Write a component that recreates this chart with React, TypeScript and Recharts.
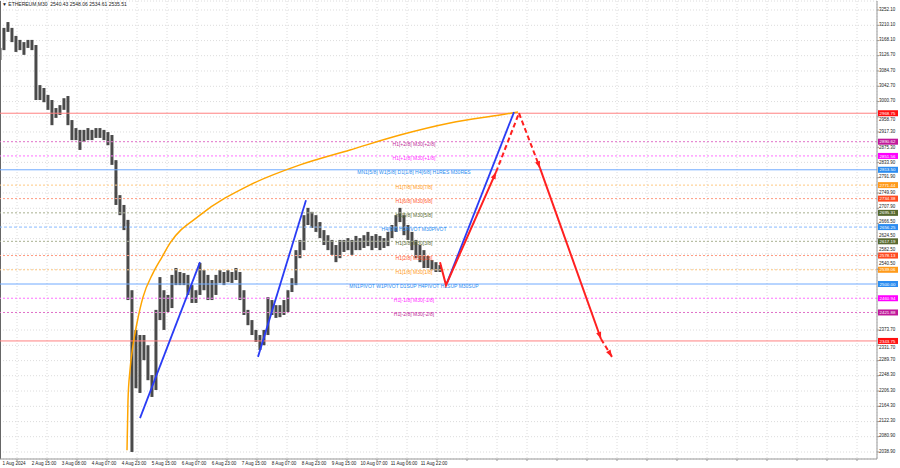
import React from "react";
import {
  ComposedChart,
  Bar,
  Line,
  XAxis,
  YAxis,
  CartesianGrid,
  ReferenceLine,
} from "recharts";

// M30 bars, sampled every 4th bar: index, high, low
const barIndex = [
  0, 4, 8, 12, 16, 20, 24, 28, 32, 36, 40, 44, 48, 52, 56, 60, 64, 68, 72, 76,
  80, 84, 88, 92, 96, 100, 104, 108, 112, 116, 120, 124, 128, 132, 136, 140,
  144, 148, 152, 156, 160, 164, 168, 172, 176, 180, 184, 188, 192, 196, 200,
  204, 208, 212, 216, 220, 224, 228, 232, 236, 240, 244, 248, 252, 256, 260,
  264, 268, 272, 276, 280, 284, 288, 292, 296, 300, 304, 308, 312, 316, 320,
  324, 328, 332, 336, 340, 344, 348, 352, 356, 360, 364, 368, 372, 376, 380,
  384, 388, 392, 396, 400, 404, 408, 412, 416, 420, 424, 428, 432, 436, 440,
];
const highs = [
  3148, 3203, 3219, 3203, 3181, 3170, 3164, 3170, 3170, 3156,
  3046, 3038, 3019, 3005, 2983, 2991, 3010, 3016, 2950, 2928,
  2923, 2923, 2928, 2923, 2928, 2928, 2923, 2917, 2909, 2840,
  2744, 2717, 2676, 2483, 2374, 2360, 2360, 2332, 2250, 2429,
  2519, 2483, 2470, 2525, 2544, 2533, 2530, 2525, 2497, 2483,
  2558, 2538, 2525, 2511, 2525, 2538, 2533, 2538, 2533, 2544,
  2533, 2483, 2429, 2401, 2374, 2360, 2374, 2464, 2456, 2442,
  2442, 2456, 2483, 2516, 2593, 2621, 2689, 2709, 2698, 2689,
  2670, 2648, 2634, 2621, 2607, 2621, 2621, 2626, 2621, 2632,
  2626, 2634, 2643, 2632, 2637, 2632, 2626, 2643, 2662, 2689,
  2709, 2689, 2662, 2643, 2621, 2607, 2593, 2577, 2566, 2560,
  2552,
];
const lows = [
  3115, 3142, 3192, 3164, 3137, 3142, 3129, 3148, 3142, 3005,
  3005, 2999, 2978, 2936, 2956, 2964, 2978, 2936, 2895, 2895,
  2868, 2890, 2895, 2895, 2901, 2901, 2895, 2881, 2827, 2717,
  2689, 2648, 2456, 2039, 2214, 2201, 2291, 2236, 2190, 2209,
  2401, 2374, 2423, 2434, 2497, 2497, 2497, 2470, 2448, 2448,
  2470, 2483, 2456, 2456, 2470, 2503, 2497, 2505, 2503, 2511,
  2456, 2415, 2387, 2360, 2341, 2319, 2332, 2360, 2415, 2407,
  2409, 2415, 2423, 2478, 2497, 2571, 2593, 2662, 2654, 2643,
  2626, 2607, 2593, 2580, 2560, 2571, 2588, 2593, 2580, 2593,
  2593, 2599, 2604, 2593, 2599, 2593, 2599, 2604, 2626, 2643,
  2670, 2634, 2621, 2593, 2571, 2560, 2544, 2544, 2538, 2533,
  2533,
];

// orange arc
const arcBars = [127, 128, 130, 133, 137, 143, 153, 162, 170, 200, 250, 300, 350, 400, 450, 500, 518];
const arcPrices = [2044, 2181, 2264, 2332, 2393, 2464, 2530, 2574, 2612, 2689, 2772, 2827, 2868, 2909, 2942, 2964, 2972];

// blue trend lines [startBar, startPrice, endBar, endPrice]
const blueLines = [
  [140, 2132, 200, 2560],
  [258, 2300, 306, 2730],
  [447, 2503, 514, 2972],
];

// red forecast path
const redBars = [440, 446, 496, 519, 540, 601, 612];
const redPrices = [2560, 2497, 2807, 2969, 2818, 2349, 2300];

// Murrey / pivot levels
const levelPrices = [
  2968.75, 2890.62, 2851.56, 2813.5, 2771.44, 2734.38, 2695.31, 2656.25,
  2617.19, 2578.13, 2539.06, 2500.0, 2460.94, 2421.88, 2343.75,
];
const levelTexts = [
  "",
  "H1[+2/8] M30[+2/8]",
  "H1[+1/8] M30[+1/8]",
  "MN1[5/8] W1[5/8] D1[1/8] H4[6/8] H1RES M30RES",
  "H1[7/8] M30[7/8]",
  "H1[6/8] M30[6/8]",
  "H1[5/8] M30[5/8]",
  "H4[6/8] H1PIVOT M30PIVOT",
  "H1[3/8] M30[3/8]",
  "H1[2/8] M30[2/8]",
  "H1[1/8] M30[1/8]",
  "MN1PIVOT W1PIVOT D1SUP H4PIVOT H1SUP M30SUP",
  "H1[-1/8] M30[-1/8]",
  "H1[-2/8] M30[-2/8]",
  "",
];

const priceTicks = [
  3252.1, 3210.1, 3168.1, 3126.7, 3084.7, 3042.7, 3000.7, 2958.7, 2917.3,
  2875.3, 2833.9, 2791.9, 2749.9, 2707.9, 2666.5, 2624.5, 2582.5, 2540.5,
  2373.7, 2331.7, 2289.7, 2248.3, 2206.3, 2164.3, 2122.3, 2080.9, 2038.9,
];
const timeLabels = [
  "1 Aug 2024", "2 Aug 15:00", "3 Aug 08:00", "4 Aug 07:00", "4 Aug 23:00",
  "5 Aug 15:00", "6 Aug 07:00", "6 Aug 23:00", "7 Aug 15:00", "8 Aug 07:00",
  "8 Aug 23:00", "9 Aug 15:00", "10 Aug 07:00", "11 Aug 06:00", "11 Aug 22:00",
];

const PRICE_DOMAIN: [number, number] = [2019.7, 3276.8];
const BAR_DOMAIN: [number, number] = [0, 877];
const gridBars = Array.from({ length: 29 }, (_, i) => 17 + 30 * i);

const FONT = "'Liberation Sans', Arial, sans-serif";

type LevelStyle = { line: string; tag: string; text: string; dash?: string };
const RED: LevelStyle = { line: "#ff8080", tag: "#ff1010", text: "#ff1010" };
const PURPLE: LevelStyle = { line: "#e070c8", tag: "#c0189a", text: "#c0309a", dash: "2 2" };
const MAGENTA: LevelStyle = { line: "#ff70ff", tag: "#ff00ff", text: "#ff30ff", dash: "2 2" };
const BLUE: LevelStyle = { line: "#70aaff", tag: "#2b8cf0", text: "#2b8cf0" };
const BLUE_D: LevelStyle = { line: "#88bbff", tag: "#2b8cf0", text: "#2b8cf0", dash: "3 2" };
const ORANGE: LevelStyle = { line: "#ffc880", tag: "#ff9a1a", text: "#ff9a1a", dash: "2 2" };
const ORED: LevelStyle = { line: "#ff9a80", tag: "#ff4a20", text: "#ff5a30", dash: "2 2" };
const OLIVE: LevelStyle = { line: "#a8b090", tag: "#586a30", text: "#5a6a30", dash: "2 2" };
const LEVEL_STYLES = [
  RED, PURPLE, MAGENTA, BLUE, ORANGE, ORED, OLIVE, BLUE_D, OLIVE, ORED, ORANGE, BLUE, MAGENTA, PURPLE, RED,
];

const priceData = barIndex.map((x, i) => ({ x, range: [lows[i], highs[i]] }));
const arcData = arcBars.map((x, i) => ({ x, p: arcPrices[i] }));
const blueData = blueLines.map(([x0, p0, x1, p1]) => [
  { x: x0, p: p0 },
  { x: x1, p: p1 },
]);
const redPoints = redBars.map((x, i) => ({ x, p: redPrices[i] }));
const redSegments = [
  { from: 0, to: 2, dashed: false, arrow: true },
  { from: 2, to: 3, dashed: true, arrow: false },
  { from: 3, to: 4, dashed: true, arrow: true },
  { from: 4, to: 5, dashed: false, arrow: true },
  { from: 5, to: 6, dashed: true, arrow: true },
];

const PX_PER_PRICE = 458 / (PRICE_DOMAIN[1] - PRICE_DOMAIN[0]);

function makeArrow(data: { x: number; p: number }[]) {
  return (props: any) => {
    const { cx, cy, index, points } = props;
    const key = `arrow-${index}`;
    if (index !== data.length - 1 || cx == null) return <g key={key} />;
    let dx: number;
    let dy: number;
    if (points && points[index - 1]) {
      dx = cx - points[index - 1].x;
      dy = cy - points[index - 1].y;
    } else {
      dx = data[index].x - data[index - 1].x;
      dy = -(data[index].p - data[index - 1].p) * PX_PER_PRICE;
    }
    const a = Math.atan2(dy, dx);
    const len = 7;
    const half = 2.6;
    const bx = cx - len * Math.cos(a);
    const by = cy - len * Math.sin(a);
    const pts = [
      [cx, cy],
      [bx + half * Math.sin(a), by - half * Math.cos(a)],
      [bx - half * Math.sin(a), by + half * Math.cos(a)],
    ]
      .map((q) => q.join(","))
      .join(" ");
    return <polygon key={key} points={pts} fill="#ff2020" stroke="none" />;
  };
}

function levelLabel(i: number) {
  return (props: any) => {
    const vb = props.viewBox;
    if (!vb) return null;
    const st = LEVEL_STYLES[i];
    const y = vb.y;
    const tagX = vb.x + vb.width + 1;
    return (
      <g>
        {levelTexts[i] && (
          <text
            x={414}
            y={y + 4}
            textAnchor="middle"
            fontSize={5}
            fontFamily={FONT}
            fill={st.text}
          >
            {levelTexts[i]}
          </text>
        )}
        <rect x={tagX} y={y - 3} width={20} height={6} fill={st.tag} />
        <text x={tagX + 1.5} y={y + 1.6} fontSize={4.4} fontFamily={FONT} fill="#ffffff">
          {levelPrices[i].toFixed(2)}
        </text>
      </g>
    );
  };
}

// axis labels sit a little above their tick; nudge those that would sit under a price tag
const PriceTick = (props: any) => {
  const { x, y, payload } = props;
  const v = Number(payload.value);
  let center = y - 1;
  for (const lp of levelPrices) {
    const tagY = y - (lp - v) * PX_PER_PRICE;
    const d = center - tagY;
    if (Math.abs(d) < 6) center = tagY + (d >= 0 ? 6 : -6);
  }
  return (
    <text x={x - 1} y={center + 1.6} fontSize={4.5} fontFamily={FONT} fill="#222">
      {v.toFixed(2)}
    </text>
  );
};

const TimeTick = (props: any) => {
  const { x, y, index } = props;
  const label = timeLabels[index];
  if (!label) return <g />;
  return (
    <text x={x - 3} y={y + 3} textAnchor="middle" fontSize={4.6} fontFamily={FONT} fill="#222">
      {label}
    </text>
  );
};

const PriceBar = (props: any) => {
  const { x, y, width, height } = props;
  if (x == null || y == null) return <g />;
  const top = Math.min(y, y + height);
  const h = Math.max(1, Math.abs(height));
  return <rect x={x + width / 2 - 1.5} y={top} width={3} height={h} fill="#4a4a4a" />;
};

export default function App() {
  return (
    <div style={{ position: "relative", width: 900, height: 468, background: "#fff" }}>
      <style>{"body{margin:0;background:#fff}"}</style>
      <ComposedChart
        width={900}
        height={468}
        data={priceData}
        margin={{ top: 1, right: 0, bottom: 0, left: 0 }}
      >
        <CartesianGrid stroke="#dcdcdc" strokeDasharray="1 2" />
        <XAxis
          dataKey="x"
          type="number"
          domain={BAR_DOMAIN}
          allowDataOverflow
          ticks={gridBars}
          interval={0}
          height={9}
          tickSize={2}
          tickMargin={1}
          axisLine={{ stroke: "#999" }}
          tickLine={{ stroke: "#999" }}
          tick={<TimeTick />}
        />
        <YAxis
          orientation="right"
          type="number"
          domain={PRICE_DOMAIN}
          allowDataOverflow
          ticks={priceTicks}
          interval={0}
          width={23}
          tickSize={2}
          tickMargin={1}
          axisLine={{ stroke: "#999" }}
          tickLine={{ stroke: "#999" }}
          tick={<PriceTick />}
        />
        <ReferenceLine x={0} stroke="#666" strokeWidth={2} />
        {levelPrices.map((p, i) => (
          <ReferenceLine
            key={`lvl-${i}`}
            y={p}
            stroke={LEVEL_STYLES[i].line}
            strokeDasharray={LEVEL_STYLES[i].dash}
            strokeWidth={1}
            label={levelLabel(i)}
          />
        ))}
        <Bar
          dataKey="range"
          fill="#4a4a4a"
          barSize={3}
          shape={<PriceBar />}
          isAnimationActive={false}
        />
        <Line
          data={arcData}
          dataKey="p"
          type="monotone"
          stroke="#ffa500"
          strokeWidth={1.5}
          dot={false}
          activeDot={false}
          isAnimationActive={false}
        />
        {blueData.map((d, i) => (
          <Line
            key={`blue-${i}`}
            data={d}
            dataKey="p"
            stroke="#2a3cf5"
            strokeWidth={1.8}
            dot={false}
            activeDot={false}
            isAnimationActive={false}
          />
        ))}
        {redSegments.map((s, i) => {
          const d = redPoints.slice(s.from, s.to + 1);
          return (
            <Line
              key={`red-${i}`}
              data={d}
              dataKey="p"
              stroke="#ff2020"
              strokeWidth={2}
              strokeDasharray={s.dashed ? "5 3" : undefined}
              dot={s.arrow ? makeArrow(d) : false}
              activeDot={false}
              isAnimationActive={false}
            />
          );
        })}
      </ComposedChart>
      <div
        style={{
          position: "absolute",
          left: 2,
          top: 1,
          fontSize: 5,
          fontFamily: FONT,
          color: "#222",
          whiteSpace: "pre",
          lineHeight: "7px",
        }}
      >
        {"▼ ETHEREUM,M30  2540.43 2548.06 2534.61 2535.51"}
      </div>
    </div>
  );
}
